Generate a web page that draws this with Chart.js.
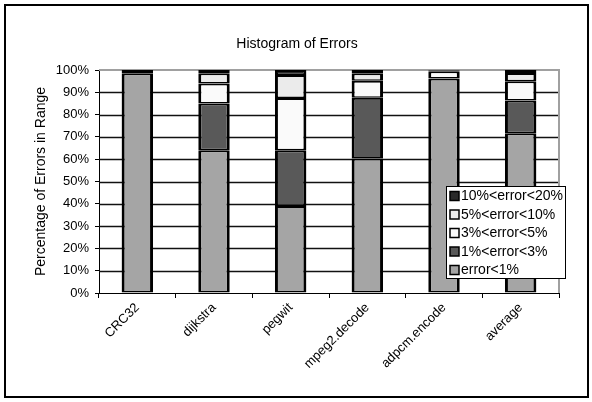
<!DOCTYPE html>
<html>
<head>
<meta charset="utf-8">
<script src="https://cdn.jsdelivr.net/npm/chart.js@4/dist/chart.umd.min.js"></script>
<style>
  html, body { margin: 0; padding: 0; background: #fff; }
  #wrap { width: 592px; height: 402px; }
</style>
</head>
<body>
<div id="wrap"><canvas id="c" width="592" height="402"></canvas></div>
<script>
// Benchmarks on the x axis
const categories = ['CRC32', 'dijkstra', 'pegwit', 'mpeg2.decode', 'adpcm.encode', 'average'];

// Share of errors (%) falling in each range, per benchmark
const errorBelow1 = [98.5, 64.0, 39.0, 60.3, 96.2, 71.6];
const error1to3   = [0.0, 21.0, 25.0, 27.3, 0.0, 14.7];
const error3to5   = [0.0, 9.0, 23.4, 7.6, 3.2, 8.6];
const error5to10  = [0.0, 4.5, 10.4, 3.3, 0.4, 3.7];
const error10to20 = [1.5, 1.5, 2.2, 1.5, 0.2, 1.4];

const seriesLabels = ['error<1%', '1%<error<3%', '3%<error<5%', '5%<error<10%', '10%<error<20%'];
const yTicks = [0, 10, 20, 30, 40, 50, 60, 70, 80, 90, 100];

const FONT = '"Liberation Sans", Arial, sans-serif';
const fills = ['#a5a5a5', '#595959', '#fafafa', '#ebebeb', '#2a2a2a'];
const series = [errorBelow1, error1to3, error3to5, error5to10, error10to20];

const datasets = series.map((vals, i) => ({
  label: seriesLabels[i],
  data: vals,
  backgroundColor: fills[i],
  borderColor: '#000',
  borderWidth: { left: 3, right: 3, top: 2, bottom: 1.5 },
  borderSkipped: false,
  categoryPercentage: 1.0,
  barPercentage: 0.41
}));

// Horizontal grid, plot border, frame, title and the boxed legend
const decorations = {
  id: 'decorations',
  beforeDatasetsDraw(chart) {
    const { ctx, chartArea: a, scales } = chart;
    const ys = scales.y;
    ctx.save();
    // horizontal grid lines at every inner y tick
    ctx.strokeStyle = '#111';
    ctx.lineWidth = 1.5;
    for (let k = 1; k < yTicks.length - 1; k++) {
      const y = Math.round(ys.getPixelForValue(yTicks[k])) + 0.5;
      ctx.beginPath();
      ctx.moveTo(a.left, y);
      ctx.lineTo(a.right, y);
      ctx.stroke();
    }
    // gray plot border on top and right
    ctx.strokeStyle = '#a0a0a0';
    ctx.lineWidth = 2;
    ctx.beginPath();
    ctx.moveTo(a.left, a.top);
    ctx.lineTo(a.right, a.top);
    ctx.lineTo(a.right, a.bottom);
    ctx.stroke();
    ctx.restore();
  },
  afterDraw(chart) {
    const { ctx } = chart;
    ctx.save();
    // outer frame
    ctx.strokeStyle = '#000';
    ctx.lineWidth = 2;
    ctx.strokeRect(5, 5, 583, 392);

    // title
    ctx.fillStyle = '#000';
    ctx.font = '14px ' + FONT;
    ctx.textAlign = 'center';
    ctx.textBaseline = 'middle';
    ctx.fillText('Histogram of Errors', 297, 44);

    // legend box
    const lx = 446, ly = 186, lw = 119, lh = 92;
    ctx.fillStyle = '#fff';
    ctx.fillRect(lx, ly, lw, lh);
    ctx.strokeStyle = '#000';
    ctx.lineWidth = 1;
    ctx.strokeRect(lx + 0.5, ly + 0.5, lw, lh);

    const rowY = [196, 214.5, 233, 251.5, 270];
    ctx.textAlign = 'left';
    ctx.font = '14px ' + FONT;
    for (let r = 0; r < 5; r++) {
      const idx = 4 - r;
      const y = rowY[r];
      ctx.fillStyle = fills[idx];
      ctx.fillRect(450, y - 4.5, 9, 9);
      ctx.lineWidth = 1.5;
      ctx.strokeStyle = '#000';
      ctx.strokeRect(450, y - 4.5, 9, 9);
      ctx.fillStyle = '#000';
      ctx.fillText(seriesLabels[idx], 461, y + 0.5);
    }
    ctx.restore();
  }
};

new Chart(document.getElementById('c'), {
  type: 'bar',
  data: { labels: categories, datasets },
  options: {
    responsive: false,
    animation: false,
    layout: { padding: { left: 0, right: 33, top: 70, bottom: 0 } },
    plugins: {
      legend: { display: false },
      title: { display: false },
      tooltip: { enabled: false }
    },
    scales: {
      x: {
        stacked: true,
        grid: { drawOnChartArea: false, drawTicks: true, tickLength: 5, color: '#000', offset: true },
        border: { display: true, color: '#000', width: 1 },
        ticks: {
          color: '#000',
          font: { family: FONT, size: 13 },
          maxRotation: 45,
          minRotation: 45,
          padding: 2
        },
        afterFit(scale) { scale.height = 109; }
      },
      y: {
        stacked: true,
        min: yTicks[0],
        max: yTicks[yTicks.length - 1],
        grid: {
          display: true,
          drawOnChartArea: false,
          drawTicks: true,
          color: '#000',
          tickLength: 4,
          lineWidth: 1
        },
        border: { display: true, color: '#000', width: 1 },
        ticks: {
          color: '#000',
          stepSize: yTicks[1] - yTicks[0],
          font: { family: FONT, size: 13 },
          padding: 6,
          callback: v => v + '%'
        },
        title: {
          display: true,
          text: 'Percentage of Errors in Range',
          color: '#000',
          font: { family: FONT, size: 14 },
          padding: { top: 33, bottom: 0 }
        },
        afterFit(scale) { scale.width = 99; }
      }
    }
  },
  plugins: [decorations]
});
</script>
</body>
</html>
